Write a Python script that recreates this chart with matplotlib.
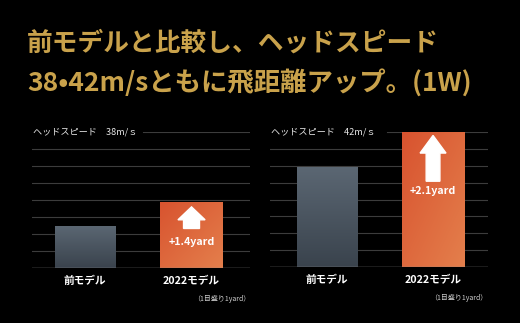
import numpy as np
import matplotlib
matplotlib.use("Agg")
import matplotlib.pyplot as plt
from matplotlib.patches import FancyArrow

plt.rcParams['font.family'] = ['Noto Sans CJK JP', 'DejaVu Sans']

# data (1 tick = 1 yard)
models = ["前モデル", "2022モデル"]
speeds = ["38m/ｓ", "42m/ｓ"]
carry_38 = [2.5, 3.9]
carry_42 = [5.9, 8.0]
gains = ["+1.4yard", "+2.1yard"]

title_lines = ["前モデルと比較し、ヘッドスピード", "38•42m/sともに飛距離アップ。(1W)"]
gold = "#c9a24b"

fig = plt.figure(figsize=(5.2, 3.23), dpi=100, facecolor="black")
fig.text(0.052, 0.867, title_lines[0], color=gold, fontsize=18.5, fontweight="bold", va="center")
fig.text(0.052, 0.743, title_lines[1], color=gold, fontsize=19, fontweight="bold", va="center")


def gradient_bar(ax, x, h, w, c_top, c_bot, diag=False):
    bar = ax.bar(x, h, width=w, color="none", edgecolor="none", zorder=3)[0]
    n = 64
    t = np.linspace(0, 1, n)
    if diag:
        g = (t[None, :] * 0.5 + t[:, None] * 0.5)
    else:
        g = np.repeat(t[:, None], n, axis=1)
    c0 = np.array(matplotlib.colors.to_rgb(c_top))
    c1 = np.array(matplotlib.colors.to_rgb(c_bot))
    img = c0[None, None, :] * (1 - g[..., None]) + c1[None, None, :] * g[..., None]
    im = ax.imshow(img, extent=(x - w / 2, x + w / 2, 0, h), origin="upper",
                   aspect="auto", zorder=3)
    im.set_clip_path(bar)
    return bar


# panel settings: axes rect, xlim, top gridline start, arrow offsets from bar top
panels = [
    dict(rect=[0.061, 0.169, 0.42, 0.421], xlim=(-0.50, 1.55), top_start=0.51,
         vals=carry_38, speed=speeds[0], gain=gains[0],
         tip=0.28, tail=1.55, txt=2.34, hw=0.255, sw=0.15, hl=0.76),
    dict(rect=[0.519, 0.1724, 0.4187, 0.4198], xlim=(-0.54, 1.515), top_start=0.536,
         vals=carry_42, speed=speeds[1], gain=gains[1],
         tip=0.22, tail=2.92, txt=3.5, hw=0.245, sw=0.13, hl=1.04),
]

for p in panels:
    ax = fig.add_axes(p["rect"])
    ax.set_facecolor("black")
    ax.set_xlim(*p["xlim"])
    ax.set_ylim(0, 8)
    for s in ax.spines.values():
        s.set_visible(False)
    ax.set_xticks([])
    ax.set_yticks([])

    for y in range(1, 8):
        ax.axhline(y, color="#3c3c3c", lw=0.8, zorder=1)
    ax.axhline(8, xmin=p["top_start"], color="#3c3c3c", lw=0.8, zorder=1)
    ax.axhline(0, color="#8a8a8a", lw=1.0, zorder=4)

    ax.text(0.005, 8, "ヘッドスピード　" + p["speed"], color="#e6e6e6", fontsize=6.6,
            va="center", ha="left", transform=ax.get_yaxis_transform(), clip_on=False)

    gradient_bar(ax, 0, p["vals"][0], 0.57, "#5b6773", "#3a434d")
    gradient_bar(ax, 1, p["vals"][1], 0.59, "#d8532f", "#e47f4c", diag=True)

    top = p["vals"][1]
    arr = FancyArrow(1, top - p["tail"], 0, p["tail"] - p["tip"], width=p["sw"],
                     head_width=p["hw"], head_length=p["hl"], length_includes_head=True,
                     color="white", zorder=5)
    ax.add_patch(arr)
    ax.text(1, top - p["txt"], p["gain"], color="white", fontsize=7.7, fontweight="bold",
            ha="center", va="center", zorder=5)

    for i, m in enumerate(models):
        ax.text(i, -0.75, m, color="white", fontsize=7.7, fontweight="bold",
                ha="center", va="center", clip_on=False)
    ax.text(1.0, -1.8, "（1目盛り1yard）", color="#cfcfcf", fontsize=5,
            ha="right", va="center", transform=ax.get_yaxis_transform(), clip_on=False)

fig.savefig("out.png", dpi=100, facecolor="black")
